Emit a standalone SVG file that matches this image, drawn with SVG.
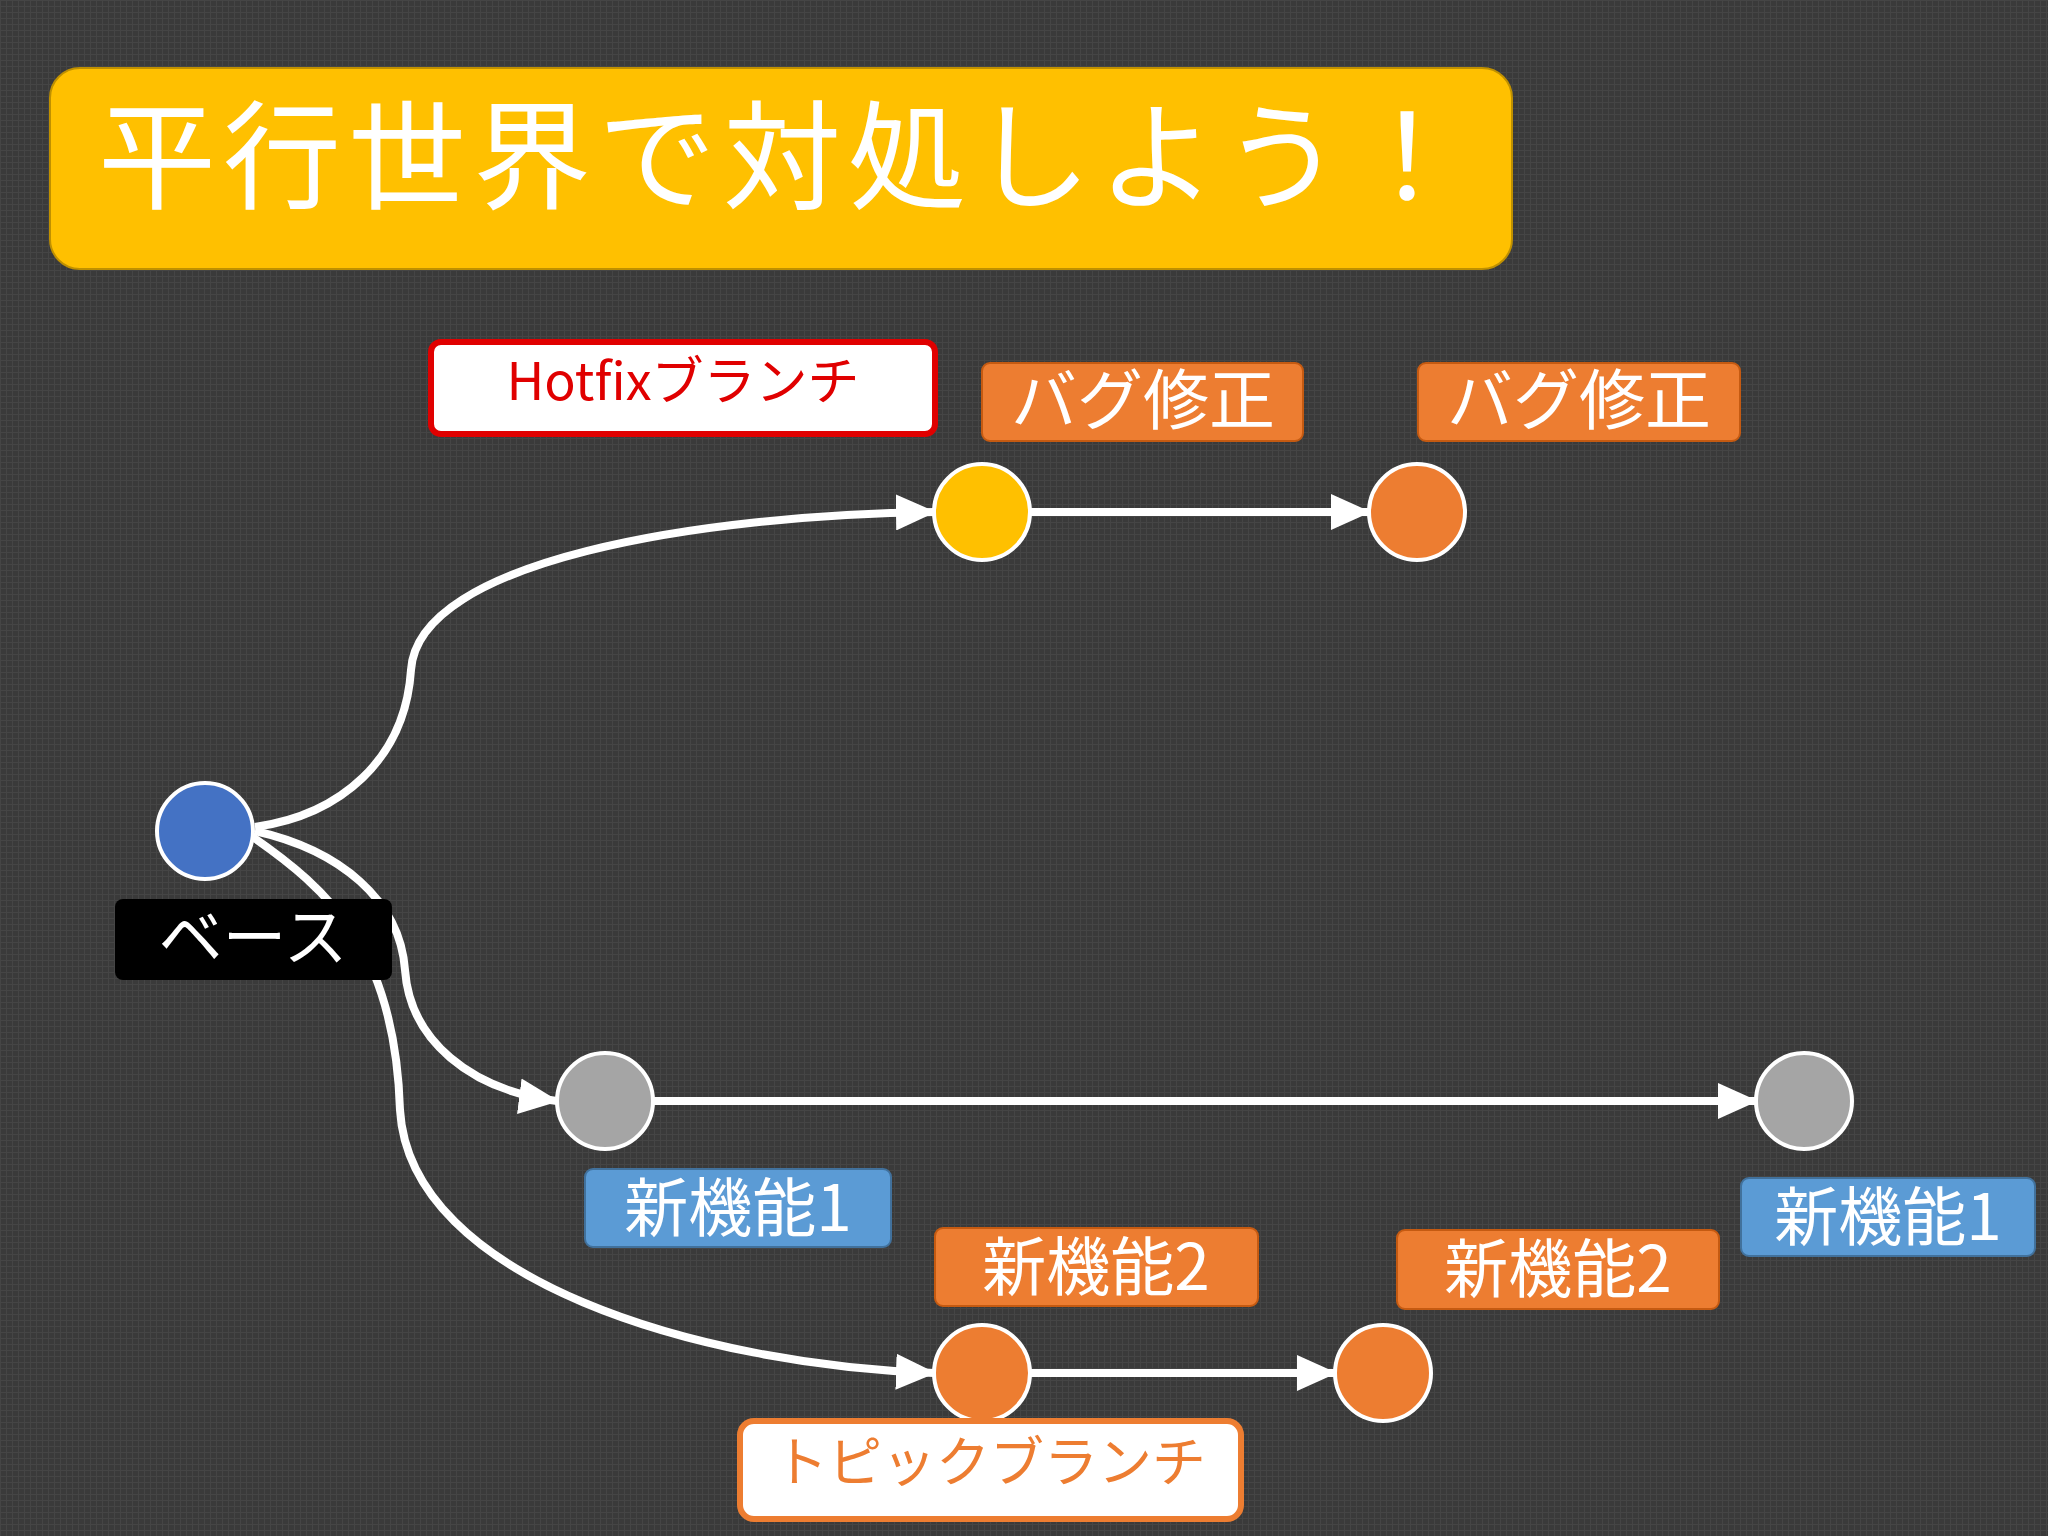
<svg xmlns="http://www.w3.org/2000/svg" width="2048" height="1536" viewBox="0 0 2048 1536">
<style>
text{font-family:"Noto Sans CJK JP","Noto Sans",sans-serif;text-anchor:middle}
.w{fill:#fff}
.c{fill:none;stroke:#fff;stroke-width:8}
.n{stroke:#fff;stroke-width:4}
.or{fill:#ED7D31;stroke:#C55A11;stroke-width:2}
.bl{fill:#5B9BD5;stroke:#41719C;stroke-width:2}
</style>
<defs>
<pattern id="g" width="6" height="6" patternUnits="userSpaceOnUse">
<rect width="6" height="6" fill="#3a3a3a"/>
<path d="M0 0.5H6M0.5 0V6" stroke="#454545" stroke-width="1"/>
</pattern>
<marker id="a" markerUnits="userSpaceOnUse" markerWidth="40" markerHeight="36" refX="38" refY="18" orient="auto">
<path d="M0,0 L40,18 L0,36 Z" fill="#fff"/>
</marker>
</defs>
<rect width="2048" height="1536" fill="url(#g)"/>
<g id="title">
<rect x="50" y="68" width="1462" height="201" rx="30" fill="#FFC000" stroke="#BF9000" stroke-width="2"/>
<text x="98" y="200" font-size="118" letter-spacing="7" class="w" style="text-anchor:start">平行世界で対処しよう！</text>
</g>
<g id="connectors">
<path class="c" marker-end="url(#a)" d="M255,827 C340,815 405,760 411,670 C418,560 700,515 934,512"/>
<path class="c" marker-end="url(#a)" d="M1030,512 L1369,512"/>
<path class="c" marker-end="url(#a)" d="M255,831 C340,850 400,900 405,970 C410,1040 470,1090 557,1101"/>
<path class="c" marker-end="url(#a)" d="M653,1101 L1756,1101"/>
<path class="c" marker-end="url(#a)" d="M250,835 C330,890 395,950 400,1110 C410,1280 700,1365 934,1373"/>
<path class="c" marker-end="url(#a)" d="M1030,1373 L1335,1373"/>
</g>
<g id="hotfix-label">
<rect x="431" y="342" width="504" height="92" rx="10" fill="#fff" stroke="#E00000" stroke-width="6"/>
<text x="683" y="400" font-size="52" fill="#E00000">Hotfixブランチ</text>
</g>
<g id="bug1-label"><rect class="or" x="982" y="363" width="321" height="78" rx="8"/><text x="1143" y="424" font-size="66" class="w">バグ修正</text></g>
<g id="bug2-label"><rect class="or" x="1418" y="363" width="322" height="78" rx="8"/><text x="1579" y="424" font-size="66" class="w">バグ修正</text></g>
<g id="node-yellow"><circle class="n" cx="982" cy="512" r="48" fill="#FFC000"/></g>
<g id="node-orange1"><circle class="n" cx="1417" cy="512" r="48" fill="#ED7D31"/></g>
<g id="node-base"><circle class="n" cx="205" cy="831" r="48" fill="#4472C4"/></g>
<g id="base-label"><rect x="115" y="899" width="277" height="81" rx="8" fill="#000"/><text x="253" y="960" font-size="64" class="w">ベース</text></g>
<g id="node-gray1"><circle class="n" cx="605" cy="1101" r="48" fill="#A5A5A5"/></g>
<g id="node-gray2"><circle class="n" cx="1804" cy="1101" r="48" fill="#A5A5A5"/></g>
<g id="feat1-label"><rect class="bl" x="585" y="1169" width="306" height="78" rx="8"/><text x="738" y="1231" font-size="64" class="w">新機能1</text></g>
<g id="feat1b-label"><rect class="bl" x="1741" y="1178" width="294" height="78" rx="8"/><text x="1888" y="1240" font-size="64" class="w">新機能1</text></g>
<g id="feat2-label"><rect class="or" x="935" y="1228" width="323" height="78" rx="8"/><text x="1096" y="1290" font-size="64" class="w">新機能2</text></g>
<g id="feat2b-label"><rect class="or" x="1397" y="1230" width="322" height="79" rx="8"/><text x="1558" y="1292" font-size="64" class="w">新機能2</text></g>
<g id="node-orange2"><circle class="n" cx="982" cy="1373" r="48" fill="#ED7D31"/></g>
<g id="node-orange3"><circle class="n" cx="1383" cy="1373" r="48" fill="#ED7D31"/></g>
<g id="topic-label">
<rect x="740" y="1421" width="501" height="98" rx="14" fill="#fff" stroke="#ED7D31" stroke-width="6"/>
<text x="990" y="1482" font-size="54" fill="#ED7D31">トピックブランチ</text>
</g>
</svg>
